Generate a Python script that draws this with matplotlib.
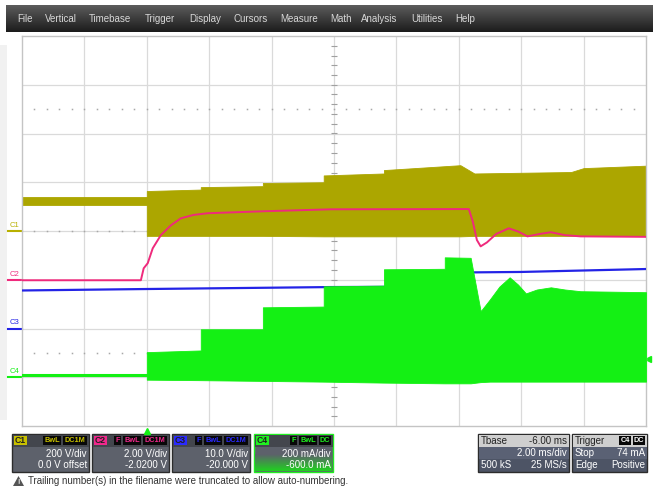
import matplotlib.pyplot as plt
import matplotlib.transforms as mtransforms
from matplotlib.patches import Rectangle, Polygon
import numpy as np

plt.rcParams['font.family'] = ['Liberation Sans', 'DejaVu Sans']

# scope settings
t_per_div, t_delay = 2.0, -6.0          # ms/div, ms
c1_scale, c1_offset = 200.0, 0.0        # V/div, V
c2_scale, c2_offset = 2.0, -2.02        # V/div, V
c3_scale, c3_offset = 10.0, -20.0       # V/div, V
c4_scale, c4_offset = 200.0, -600.0     # mA/div, mA
trig_level = 74.0                       # mA

# C1 switching node (olive), V -- envelope of the switching band
c1_pre_t = [-4.0, 0.0]
c1_pre_hi = [139, 139]
c1_pre_lo = [107, 107]
c1_t = [0.0, 1.73, 1.73, 3.72, 3.72, 5.67, 5.67, 7.6, 7.6, 10.05, 10.5, 13.6, 14.0, 16.0]
c1_hi = [164, 170, 180, 184, 197, 200, 228, 236, 250, 270, 236, 242, 258, 268]
c1_lo = [-20, -20, -20, -20, -20, -22, -22, -22, -22, -22, -20, -20, -20, -20]

# C2 output voltage (pink), V
c2_t = [-4.0, -0.19, -0.10, 0.03, 0.19, 0.45, 0.77, 1.09, 1.50, 1.96, 3.75, 5.9, 10.32,
        10.45, 10.58, 10.7, 10.9, 11.2, 11.6, 11.9, 12.2, 12.6, 12.95, 13.4, 13.9, 16.0]
c2_v = [0.0, 0.0, 0.49, 0.70, 1.31, 1.85, 2.25, 2.54, 2.68, 2.75, 2.83, 2.91, 2.92,
        2.40, 1.65, 1.39, 1.55, 1.90, 2.13, 2.00, 1.80, 1.90, 1.97, 1.85, 1.80, 1.78]

# C3 input voltage (blue), V
c3_t = [-4.0, 0.0, 5.9, 10.0, 10.2, 12.0, 16.0]
c3_v = [7.8, 8.1, 8.5, 8.6, 11.5, 11.6, 12.2]

# C4 inductor current (green), mA
c4_pre_t = [-4.0, 0.0]
c4_pre_v = [9, 9]
c4_t = [0.0, 1.73, 1.73, 3.72, 3.72, 5.67, 5.67, 7.6, 7.6, 9.55, 9.55, 10.38,
        10.7, 11.0, 11.3, 11.63, 11.9, 12.15, 12.5, 12.95, 13.4, 13.9, 16.0]
c4_hi = [103, 110, 197, 197, 287, 290, 373, 376, 443, 445, 492, 490,
         271, 320, 372, 410, 380, 344, 360, 369, 360, 353, 349]
c4_lo = [-10, -12, -12, -15, -15, -18, -18, -22, -22, -25, -25, -25,
         -20, -18, -18, -18, -18, -18, -18, -18, -18, -18, -18]

col1, col2, col3, col4 = '#aca600', '#ef2a7c', '#2323e6', '#14f014'


def to_div(v, scale, offset):
    return np.asarray(v, dtype=float) / scale + 4 + offset / scale


W, H = 653, 491
fig = plt.figure(figsize=(W / 100, H / 100), dpi=100)

# background layer in pixel coordinates
bg = fig.add_axes([0, 0, 1, 1], zorder=0)
bg.set_xlim(0, W)
bg.set_ylim(H, 0)
bg.axis('off')

# menu bar
grad = np.linspace(0, 1, 50).reshape(-1, 1)
bg.imshow(grad, extent=(6, W, 32, 5), cmap=plt.matplotlib.colors.LinearSegmentedColormap.from_list(
    'bar', ['#5c5c5c', '#1c1c1c']), aspect='auto', zorder=1)
menu = ['File', 'Vertical', 'Timebase', 'Trigger', 'Display', 'Cursors',
        'Measure', 'Math', 'Analysis', 'Utilities', 'Help']
menu_x = [17, 45, 89, 145, 189, 233, 280, 330, 361, 411, 455]
for m, x in zip(menu, menu_x):
    bg.text(x, 18.5, m, color='#d8d8d8', fontsize=7, va='center', ha='left', zorder=2)

bg.add_patch(Rectangle((0, 45), 7, 375, fc='#f1f1f1', ec='none'))


def tag(x, y, w, text, fc, tc, fs=5.3):
    bg.add_patch(Rectangle((x, y), w, 9, fc=fc, ec='none', zorder=3))
    bg.text(x + w / 2, y + 4.8, text, color=tc, fontsize=fs, ha='center',
            va='center', fontweight='bold', zorder=4)


def chan_box(x0, w, label, color, tags, line1, line2, active=False):
    y0, h = 434, 38
    bg.add_patch(Rectangle((x0, y0), w, h, fc='#5d616b',
                           ec=color if active else '#2c2c2c', lw=1.0, zorder=2))
    bg.add_patch(Rectangle((x0 + 0.5, y0 + 0.5), w - 1, 12, fc='#43464d', ec='none', zorder=2))
    if active:
        g = np.linspace(0, 1, 30).reshape(-1, 1)
        cm = plt.matplotlib.colors.LinearSegmentedColormap.from_list('g', ['#5d616b', '#20d020'])
        bg.imshow(g, extent=(x0 + 1, x0 + w - 1, y0 + h - 1, y0 + 20), cmap=cm,
                  aspect='auto', zorder=2.5)
    tag(x0 + 2, y0 + 2, 13, label, color, '#202020', fs=6.2)
    xr = x0 + w - 2
    for text, tw in reversed(tags):
        tag(xr - tw, y0 + 2, tw, text, '#080808', color)
        xr -= tw + 2
    bg.text(x0 + w - 2, y0 + 20, line1, color='white', fontsize=7, ha='right', va='center', zorder=4)
    bg.text(x0 + w - 2, y0 + 31, line2, color='white', fontsize=7, ha='right', va='center', zorder=4)


chan_box(12, 77, 'C1', '#c8c000', [('BwL', 18), ('DC1M', 24)], '200 V/div', '0.0 V offset')
chan_box(92, 77, 'C2', '#f0288c', [('F', 7), ('BwL', 18), ('DC1M', 24)], '2.00 V/div', '-2.0200 V')
chan_box(172, 78, 'C3', '#2a2aff', [('F', 7), ('BwL', 18), ('DC1M', 24)], '10.0 V/div', '-20.000 V')
chan_box(254, 79, 'C4', '#20f020', [('F', 7), ('BwL', 18), ('DC', 12)], '200 mA/div', '-600.0 mA', True)


def info_box(x0, w, head_l, head_r, rows):
    y0, h = 434, 38
    bg.add_patch(Rectangle((x0, y0), w, h, fc='#4d5465', ec='#2c2c2c', lw=1.0, zorder=2))
    bg.add_patch(Rectangle((x0 + 0.5, y0 + 0.5), w - 1, 12, fc='#cfcfcf', ec='none', zorder=2))
    bg.add_patch(Rectangle((x0 + 0.5, y0 + 12.5), w - 1, 12, fc='#5a6174', ec='none', zorder=2))
    bg.text(x0 + 3, y0 + 7, head_l, color='#222222', fontsize=7, ha='left', va='center', zorder=4)
    if isinstance(head_r, str):
        bg.text(x0 + w - 2, y0 + 7, head_r, color='#222222', fontsize=7, ha='right', va='center', zorder=4)
    else:
        xr = x0 + w - 2
        for text, tw in reversed(head_r):
            tag(xr - tw, y0 + 2, tw, text, '#080808', 'white')
            xr -= tw + 2
    for i, (l, r) in enumerate(rows):
        yy = y0 + 19 + 11.5 * i
        bg.text(x0 + 3, yy, l, color='white', fontsize=7, ha='left', va='center', zorder=4)
        bg.text(x0 + w - 2, yy, r, color='white', fontsize=7, ha='right', va='center', zorder=4)


info_box(478, 91, 'Tbase', '-6.00 ms', [('', '2.00 ms/div'), ('500 kS', '25 MS/s')])
info_box(572, 75, 'Trigger', [('C4', 12), ('DC', 12)], [('Stop', '74 mA'), ('Edge', 'Positive')])

# warning line
bg.add_patch(Polygon([[13, 486], [18.5, 476], [24, 486]], closed=True, fc='#555555', ec='none'))
bg.text(18.5, 483, '!', color='white', fontsize=5, ha='center', va='center', fontweight='bold')
bg.text(28, 481, 'Trailing number(s) in the filename were truncated to allow auto-numbering.',
        color='#333333', fontsize=7, ha='left', va='center')

# scope grid
ax = fig.add_axes([22 / W, (H - 426) / H, 624 / W, 390 / H], zorder=1)
x0 = -t_delay - 5 * t_per_div
x1 = -t_delay + 5 * t_per_div
ax.set_xlim(x0, x1)
ax.set_ylim(0, 8)
ax.set_xticks([])
ax.set_yticks([])
for s in ax.spines.values():
    s.set_color('#c4c4c4')
    s.set_linewidth(1.0)
for k in range(1, 10):
    ax.axvline(x0 + k * t_per_div, color='#dadada', lw=0.9, zorder=0)
for k in range(1, 8):
    ax.axhline(k, color='#dadada', lw=0.9, zorder=0)
tc = -t_delay
minor_y = np.arange(0.2, 8, 0.2)
ax.plot(np.full_like(minor_y, tc), minor_y, ls='none', marker='_', ms=4, color='#a0a0a0', mew=0.8, zorder=0.5)
minor_x = np.arange(x0 + 0.4, x1, 0.4)
for yy in (1.5, 4.0, 6.5):
    ax.plot(minor_x, np.full_like(minor_x, yy), ls='none', marker='s', ms=1.1,
            color='#a8a8a8', mew=0, zorder=0.5)

# C1
ax.fill_between(c1_pre_t, to_div(c1_pre_lo, c1_scale, c1_offset), to_div(c1_pre_hi, c1_scale, c1_offset),
                color=col1, lw=0.6, zorder=2)
ax.fill_between(c1_t, to_div(c1_lo, c1_scale, c1_offset), to_div(c1_hi, c1_scale, c1_offset),
                color=col1, lw=0.6, zorder=2)
# C3
ax.plot(c3_t, to_div(c3_v, c3_scale, c3_offset), color=col3, lw=1.6, zorder=3)
# C4
ax.plot(c4_pre_t, to_div(c4_pre_v, c4_scale, c4_offset), color=col4, lw=2.2, zorder=4)
ax.fill_between(c4_t, to_div(c4_lo, c4_scale, c4_offset), to_div(c4_hi, c4_scale, c4_offset),
                color=col4, lw=0.6, zorder=4)
# C2
ax.plot(c2_t, to_div(c2_v, c2_scale, c2_offset), color=col2, lw=1.4, zorder=5)

# ground markers on the left
trans = mtransforms.blended_transform_factory(ax.transAxes, ax.transData)
for name, col, sc, off in [('C1', '#b8b000', c1_scale, c1_offset), ('C2', col2, c2_scale, c2_offset),
                           ('C3', col3, c3_scale, c3_offset), ('C4', col4, c4_scale, c4_offset)]:
    g = to_div(0, sc, off)
    ax.plot([-0.022, 0.0], [g, g], transform=trans, color=col, lw=1.5, clip_on=False)
    ax.text(-0.02, g + 0.05, name, transform=trans, color=col, fontsize=5.5,
            ha='left', va='bottom', clip_on=False)

# trigger markers
ax.plot([1.004], [to_div(trig_level, c4_scale, c4_offset)], transform=trans, marker='<',
        color=col4, ms=4, clip_on=False)
trans_x = mtransforms.blended_transform_factory(ax.transData, ax.transAxes)
ax.plot([0.0], [-0.013], transform=trans_x, marker='^', color=col4, ms=5, clip_on=False)

fig.savefig('out.png', dpi=100)
